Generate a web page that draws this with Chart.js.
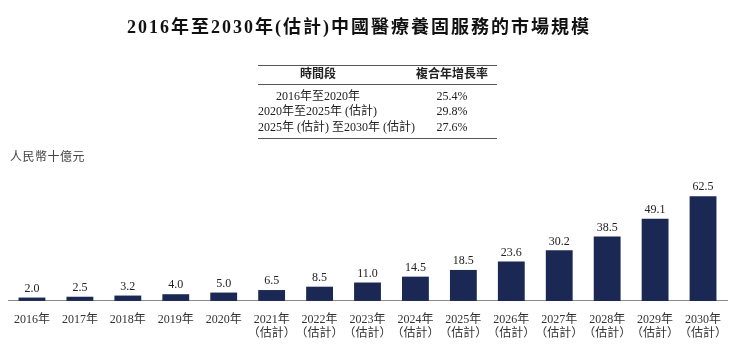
<!DOCTYPE html>
<html>
<head>
<meta charset="utf-8">
<script src="https://cdn.jsdelivr.net/npm/chart.js@4"></script>
<style>
  body { margin: 0; background: #fff; }
  #wrap { position: relative; width: 754px; height: 350px; font-family: 'Liberation Serif', 'Noto Sans CJK TC', serif; color: #222; }
  #wrap canvas { position: absolute; left: 0; top: 0; }
  .t { position: absolute; white-space: nowrap; font-size: 12px; line-height: 14px; }
  #title { left: 127px; top: 17px; font-size: 18px; line-height: 20px; font-weight: bold; letter-spacing: 2px; color: #111; }
  .rule { position: absolute; left: 258px; width: 239px; border-top: 1.5px solid #555; }
</style>
</head>
<body>
<div id="wrap">
  <canvas id="market" width="754" height="350"></canvas>
  <div id="title" class="t"></div>
  <div id="cagr"></div>
  <div id="unit" class="t" style="left:10px;top:150px;color:#444;letter-spacing:0.5px;"></div>
</div>
<script>
const titleText = '2016年至2030年(估計)中國醫療養固服務的市場規模';
const unitText = '人民幣十億元';
const years = ['2016年', '2017年', '2018年', '2019年', '2020年', '2021年', '2022年', '2023年',
               '2024年', '2025年', '2026年', '2027年', '2028年', '2029年', '2030年'];
const estimated = [false, false, false, false, false, true, true, true, true, true, true, true, true, true, true];
const marketSize = [2.0, 2.5, 3.2, 4.0, 5.0, 6.5, 8.5, 11.0, 14.5, 18.5, 23.6, 30.2, 38.5, 49.1, 62.5];
const cagrHeader = ['時間段', '複合年增長率'];
const cagrPeriods = ['2016年至2020年', '2020年至2025年 (估計)', '2025年 (估計) 至2030年 (估計)'];
const cagrRates = ['25.4%', '29.8%', '27.6%'];

document.getElementById('title').textContent = titleText;
document.getElementById('unit').textContent = unitText;

// CAGR table
const cagr = document.getElementById('cagr');
let html = '<div class="rule" style="top:65px"></div>';
html += '<div class="t" style="left:258px;width:120px;top:67px;text-align:center;font-weight:bold">' + cagrHeader[0] + '</div>';
html += '<div class="t" style="left:397px;width:110px;top:67px;text-align:center;font-weight:bold">' + cagrHeader[1] + '</div>';
html += '<div class="rule" style="top:84px;border-top-width:1px"></div>';
const rowTops = [89, 104, 120];
cagrPeriods.forEach((p, i) => {
  const style = i === 0 ? 'left:258px;width:120px;text-align:center' : 'left:258px';
  html += '<div class="t" style="' + style + ';top:' + rowTops[i] + 'px">' + p + '</div>';
  html += '<div class="t" style="left:397px;width:110px;text-align:center;top:' + rowTops[i] + 'px">' + cagrRates[i] + '</div>';
});
html += '<div class="rule" style="top:138px"></div>';
cagr.innerHTML = html;

const tickLabels = years.map((y, i) => estimated[i] ? [y, '（估計）'] : y);

const valueLabels = {
  id: 'valueLabels',
  afterDatasetsDraw(chart) {
    const ctx = chart.ctx;
    const meta = chart.getDatasetMeta(0);
    ctx.save();
    ctx.font = "12px 'Liberation Serif', 'Noto Sans CJK TC', serif";
    ctx.fillStyle = '#222';
    ctx.textAlign = 'center';
    ctx.textBaseline = 'bottom';
    meta.data.forEach((bar, i) => {
      ctx.fillText(marketSize[i].toFixed(1), bar.x, bar.y - 3);
    });
    ctx.restore();
  }
};

const ctxMarket = document.getElementById('market').getContext('2d');
new Chart(ctxMarket, {
  type: 'bar',
  data: {
    labels: tickLabels,
    datasets: [{
      data: marketSize,
      backgroundColor: '#1b2853',
      barPercentage: 0.56,
      categoryPercentage: 1.0
    }]
  },
  options: {
    responsive: false,
    animation: false,
    layout: { padding: { left: 8, right: 27, top: 167, bottom: 5 } },
    plugins: { legend: { display: false }, tooltip: { enabled: false } },
    scales: {
      x: {
        grid: { display: false },
        border: { display: true, color: '#8a8a8a', width: 1 },
        ticks: {
          color: '#333',
          padding: 4,
          maxRotation: 0,
          autoSkip: false,
          font: { family: "'Liberation Serif', 'Noto Sans CJK TC', serif", size: 12, lineHeight: 1.17 }
        }
      },
      y: { display: false, min: 0, max: 80 }
    }
  },
  plugins: [valueLabels]
});
</script>
</body>
</html>
